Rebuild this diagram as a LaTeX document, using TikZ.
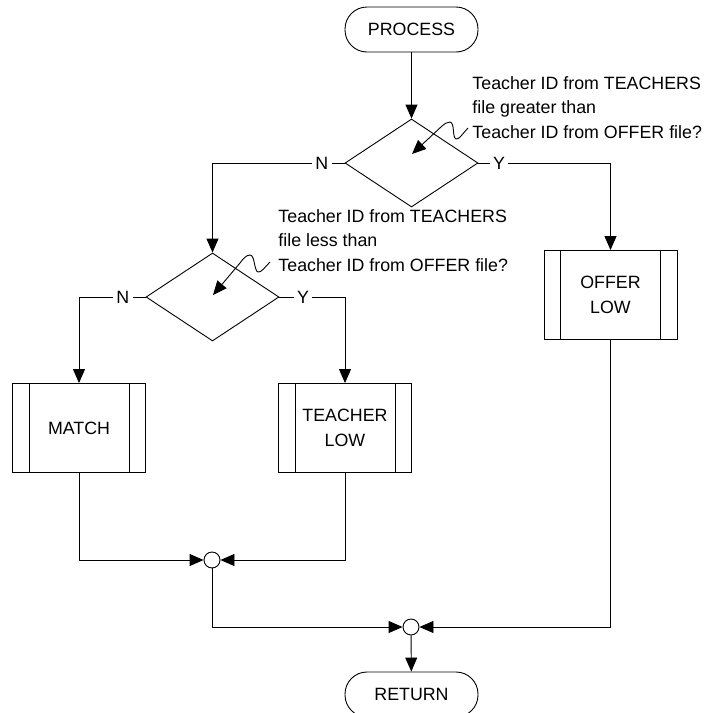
\documentclass[tikz,border=0pt]{standalone}
\usepackage{fontspec}
\setmainfont{Liberation Sans}
\usetikzlibrary{shapes.geometric,arrows.meta}
\tikzset{
  every node/.style={font=\fontsize{17.8}{24.5}\selectfont},
  term/.style={draw, rectangle, rounded corners=22pt, minimum width=133pt, minimum height=45pt, inner sep=0pt},
  dec/.style={draw, diamond, minimum width=133pt, minimum height=88pt, inner sep=0pt},
  subproc/.style={draw, rectangle, minimum width=133pt, minimum height=89pt, align=center, inner sep=0pt,
    path picture={
      \draw ([xshift=16.5pt]path picture bounding box.north west) -- ([xshift=16.5pt]path picture bounding box.south west);
      \draw ([xshift=-16.5pt]path picture bounding box.north east) -- ([xshift=-16.5pt]path picture bounding box.south east);
    }},
  junc/.style={draw, circle, minimum size=16pt, inner sep=0pt, fill=white},
  arr/.style={-{Triangle[length=14pt,width=12pt]}},
  yn/.style={fill=white, inner sep=3.5pt},
  note/.style={align=left, anchor=base west, inner sep=0pt},
}
\begin{document}
\begin{tikzpicture}[x=1pt, y=-1pt, line width=0.9pt]
\useasboundingbox (0,0) rectangle (716,713);

% main blocks
\node[term] (proc) at (411.5,29.5) {PROCESS};
\node[dec] (d1) at (411.5,163) {};
\node[dec] (d2) at (212.5,297) {};
\node[subproc] (match) at (79,428) {MATCH};
\node[subproc] (tlow) at (345,428) {TEACHER\\LOW};
\node[subproc] (olow) at (610.5,295) {OFFER\\LOW};
\node[junc] (j1) at (212,560) {};
\node[junc] (j2) at (411,627) {};
\node[term] (ret) at (411.5,694.5) {RETURN};

% decision notes (anchored at the baseline of their last line)
\node[note] (n1) at (472,138) {Teacher ID from TEACHERS\\file greater than\\Teacher ID from OFFER file?};
\node[note] (n2) at (278,271) {Teacher ID from TEACHERS\\file less than\\Teacher ID from OFFER file?};
\coordinate (s1) at (468,128);
\coordinate (t1) at (412,154);
\coordinate (s2) at (270,262);
\coordinate (t2) at (213,295);
\draw[arr] (s1) .. controls (463,133) and (459,140) .. (456,139)
  .. controls (452,137) and (455,123) .. (450,122)
  .. controls (447,122) and (444,124) .. (442,126) -- (t1);
\draw[arr] (s2) .. controls (265,267) and (261,273) .. (258,272)
  .. controls (254,271) and (255,255) .. (250,255)
  .. controls (246,255) and (243,259) .. (240,263) -- (t2);

% flow
\draw[arr] (proc) -- (d1);
\draw[arr] (d1.west) -| node[yn, pos=0.086]{N} (d2.north);
\draw[arr] (d1.east) -| node[yn, pos=0.078]{Y} (olow.north);
\draw[arr] (d2.west) -| node[yn, pos=0.17]{N} (match.north);
\draw[arr] (d2.east) -| node[yn, pos=0.18]{Y} (tlow.north);
\draw[arr] (match.south) |- (j1.west);
\draw[arr] (tlow.south) |- (j1.east);
\draw[arr] (j1.south) |- (j2.west);
\draw[arr] (olow.south) |- (j2.east);
\draw[arr] (j2) -- (ret);
\end{tikzpicture}
\end{document}
